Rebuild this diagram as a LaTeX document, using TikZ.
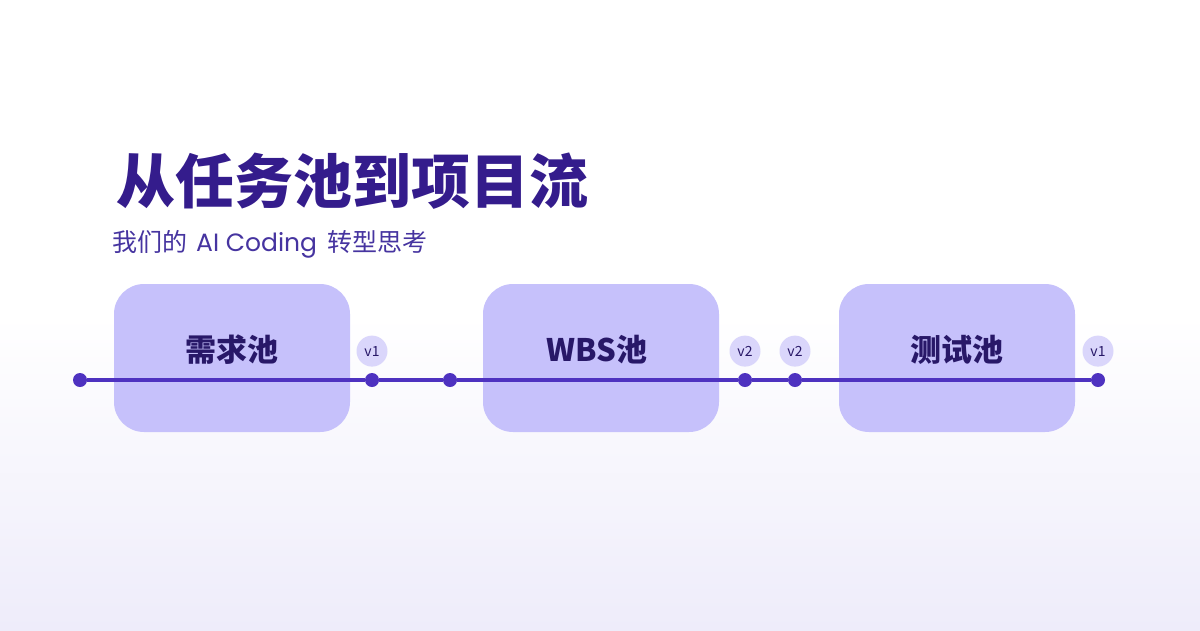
\documentclass[tikz,border=0pt]{standalone}
\usepackage{fontspec}
\setmainfont{Noto Sans CJK SC}
\newfontfamily\latinsub{Poppins}
\usetikzlibrary{positioning}
\definecolor{titlepurple}{RGB}{52,28,140}
\definecolor{subpurple}{RGB}{70,52,160}
\definecolor{poolfill}{RGB}{198,193,251}
\definecolor{poolink}{RGB}{40,24,104}
\definecolor{linepurple}{RGB}{78,50,192}
\definecolor{badgefill}{RGB}{218,214,251}
\definecolor{bglav}{RGB}{238,236,250}

\begin{document}
\begin{tikzpicture}[x=1pt, y=-1pt,
  pool/.style={rectangle, rounded corners=30pt, fill=poolfill, draw=none,
               minimum width=236pt, minimum height=148pt},
  poollabel/.style={font=\fontsize{31}{31}\selectfont\bfseries, text=poolink, inner sep=0pt},
  track/.style={line width=4.5pt, color=linepurple},
  dot/.style={circle, fill=linepurple, minimum size=14pt, inner sep=0pt},
  badge/.style={circle, fill=badgefill, minimum size=31pt, inner sep=0pt,
                font=\fontsize{14}{14}\selectfont, text=poolink}
]
  % background
  \shade[top color=white, bottom color=bglav, middle color=white] (0,0) rectangle (1200,630);
  \useasboundingbox (0,0) rectangle (1200,630);

  % heading
  \node[anchor=west, inner sep=0pt, text=titlepurple,
        font=\fontsize{59}{59}\selectfont\bfseries] (title) at (116,181) {从任务池到项目流};
  \node[anchor=west, inner sep=0pt, text=subpurple,
        font=\fontsize{25}{25}\selectfont] (subtitle) at (112,244)
        {我们的\hspace{9pt}{\latinsub AI Coding}\hspace{10pt}转型思考};

  % pools
  \node[pool] (req)  at (232,358) {};
  \node[pool] (wbs)  at (601,358) {};
  \node[pool] (test) at (957,358) {};

  % track dots
  \node[dot] (d0) at (80,380)   {};
  \node[dot] (d1) at (372,380)  {};
  \node[dot] (d2) at (450,380)  {};
  \node[dot] (d3) at (745,380)  {};
  \node[dot] (d4) at (795,380)  {};
  \node[dot] (d5) at (1098,380) {};

  \draw[track] (d0) -- (d1) -- (d2) -- (d3) -- (d4) -- (d5);

  % version badges
  \node[badge, above=6pt of d1] (b1) {v1};
  \node[badge, above=6pt of d3] (b2) {v2};
  \node[badge, above=6pt of d4] (b3) {v2};
  \node[badge, above=6pt of d5] (b4) {v1};

  % pool labels
  \node[poollabel] (reqlabel)  at (232,350) {需求池};
  \node[poollabel] (wbslabel)  at (597,350) {WBS池};
  \node[poollabel] (testlabel) at (957,350) {测试池};
\end{tikzpicture}
\end{document}
